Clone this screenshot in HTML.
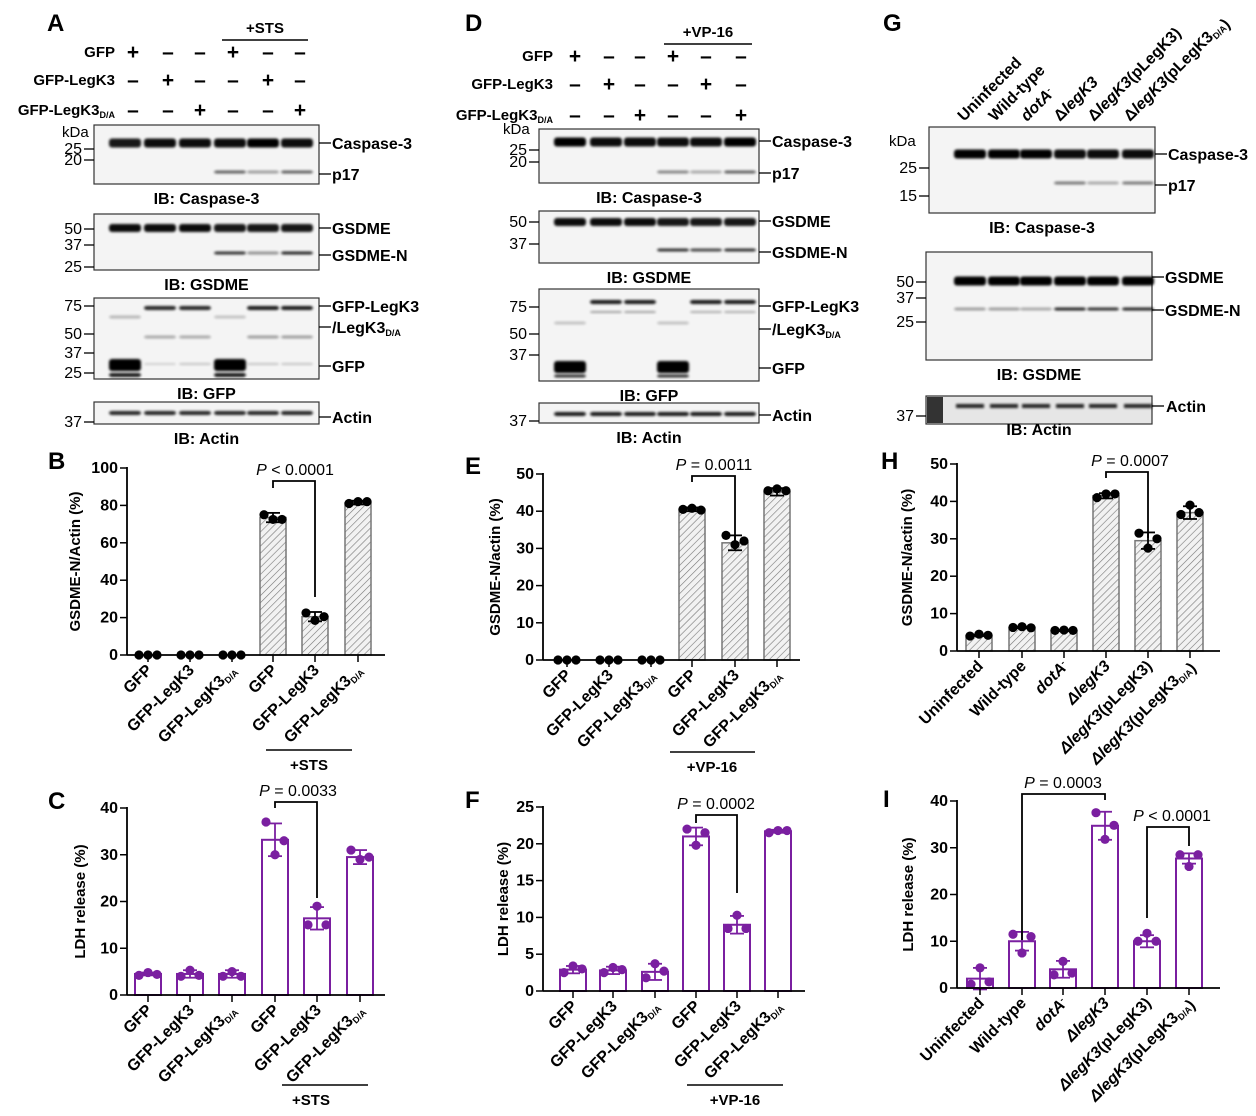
<!DOCTYPE html>
<html><head><meta charset="utf-8"><style>
body{margin:0;background:#fff}
svg{display:block;font-family:"Liberation Sans",Arial,sans-serif}
</style></head><body>
<svg id="s" width="1256" height="1116" xmlns="http://www.w3.org/2000/svg">
<defs>
<pattern id="h" width="5" height="5" patternUnits="userSpaceOnUse" patternTransform="rotate(45)">
<rect width="5" height="5" fill="#f2f2f2"/><line x1="0" y1="0" x2="0" y2="5" stroke="#777" stroke-width="1.2"/></pattern>
<filter id="bl" x="-20%" y="-100%" width="140%" height="300%"><feGaussianBlur stdDeviation="1.3"/></filter>
</defs>
</svg>
<script>
var S='';
function T(x,y,t,o){o=o||{};S+='<text x="'+x+'" y="'+y+'" font-size="'+(o.fs||15)+'"'+(o.b!==false?' font-weight="bold"':'')+' text-anchor="'+(o.a||'start')+'"'+(o.tr?' transform="'+o.tr+'"':'')+(o.fill?' fill="'+o.fill+'"':'')+'>'+t+'</text>';}
function L(x1,y1,x2,y2,w,c){S+='<line x1="'+x1+'" y1="'+y1+'" x2="'+x2+'" y2="'+y2+'" stroke="'+(c||'#000')+'" stroke-width="'+(w||1.5)+'"/>';}
var DA='<tspan font-size="9" dy="3">D/A</tspan>';
function blot(x0,y0,x1,y1,lanes,bands,marks,right,ib,bg){
 S+='<rect x="'+x0+'" y="'+y0+'" width="'+(x1-x0)+'" height="'+(y1-y0)+'" fill="'+(bg||'#f4f4f4')+'" stroke="#333" stroke-width="1.2"/>';
 bands.forEach(function(b){lanes.forEach(function(lx,i){var v=b.v[i];if(!v)return;
  S+='<rect x="'+(lx-16)+'" y="'+(b.y-b.h/2)+'" width="32" height="'+b.h+'" rx="3" fill="#000" opacity="'+v+'" filter="url(#bl)"/>';});});
 marks.forEach(function(m){L(x0-10,m[1],x0,m[1],1.3);T(x0-12,m[1]+5,m[0],{b:false,fs:16,a:'end'});});
 right.forEach(function(r){L(x1,r[1],x1+12,r[1],1.3);T(x1+13,r[1]+6,r[0],{fs:16});});
 T((x0+x1)/2,y1+20,ib,{a:'middle',fs:16});
}
function chart(o){
 var ax=o.ax,y0=o.y0,y1=o.y1,max=o.max,sc=(y0-y1)/max;
 function Y(v){return y0-v*sc;}
 o.ticks.forEach(function(t){L(ax-7,Y(t),ax,Y(t),1.5);T(ax-9,Y(t)+5,t,{a:'end',fs:16});});
 var col=o.purple?'#7a1fa0':'#000';
 o.bars.forEach(function(v,i){var x=o.xs[i];
  if(o.purple)S+='<rect x="'+(x-13)+'" y="'+Y(v)+'" width="26" height="'+(y0-Y(v))+'" fill="#fff" stroke="'+col+'" stroke-width="2"/>';
  else S+='<rect x="'+(x-13)+'" y="'+Y(v)+'" width="26" height="'+(y0-Y(v))+'" fill="url(#h)" stroke="#777" stroke-width="1.5"/>';
  var e=o.err[i];if(e){L(x,Y(v-e),x,Y(v+e),1.8,col);L(x-7,Y(v+e),x+7,Y(v+e),1.8,col);L(x-7,Y(v-e),x+7,Y(v-e),1.8,col);}
  var d=o.dots[i];[-9,0,9].forEach(function(dx,j){S+='<circle cx="'+(x+dx)+'" cy="'+Y(d[j])+'" r="4.6" fill="'+col+'"/>';});
  L(x,y0,x,y0+7,1.5);
 });
 L(ax,y1-1,ax,y0,1.8);L(ax,y0,o.xe,y0,1.8);
 T(o.ylx,(y0+y1)/2,o.ylab,{a:'middle',tr:'rotate(-90 '+o.ylx+' '+((y0+y1)/2)+')',fs:15});
 o.labels.forEach(function(l,i){var x=o.xs[i]+5,y=y0+16;T(x,y,l,{a:'end',fs:16,tr:'rotate(-45 '+x+' '+y+')'});});
 (o.sig||[]).forEach(function(s){var xa=o.xs[s[0]],xb=o.xs[s[1]],yt=s[2];
  S+='<polyline points="'+xa+','+s[3]+' '+xa+','+yt+' '+xb+','+yt+' '+xb+','+s[4]+'" fill="none" stroke="#000" stroke-width="1.8"/>';
  T(s[5],yt-6,'<tspan font-style="italic">P</tspan>'+s[6],{b:false,fs:16,a:'middle'});});
}
function header(lanes,xl,ty,treat,tx1,tx2){
 var rows=[['GFP',[1,0,0,1,0,0]],['GFP-LegK3',[0,1,0,0,1,0]],['GFP-LegK3'+DA,[0,0,1,0,0,1]]];
 rows.forEach(function(r,i){T(xl,ty[i]+5,r[0],{a:'end',fs:15});r[1].forEach(function(p,j){T(lanes[j],ty[i]+7,p?'+':'–',{a:'middle',fs:21});});});
 L(tx1,ty[0]-12,tx2,ty[0]-12,1.5);T((tx1+tx2)/2,ty[0]-19,treat,{a:'middle',fs:15});
}
// ---- Panel A
T(47,31,'A',{fs:24});
var la=[133,168,200,233,268,300];
header(la,115,[52,80,110],'+STS',222,308);
var lb=[125,160,195,230,263,297];
T(62,137,'kDa',{b:false,fs:15});
blot(94,125,319,184,lb,[{y:143,h:9,v:[.9,.95,.95,.95,1,.95]},{y:172,h:3,v:[0,0,0,.6,.35,.6]}],[['25',149],['20',160]],[['Caspase-3',143],['p17',174]],'IB: Caspase-3');
blot(94,214,319,270,lb,[{y:228,h:8,v:[.95,.95,.95,.9,.9,.9]},{y:253,h:3,v:[0,0,0,.8,.4,.85]}],[['50',229],['37',245],['25',267]],[['GSDME',228],['GSDME-N',255]],'IB: GSDME');
blot(94,298,319,379,lb,[{y:308,h:4,v:[0,.85,.85,0,.9,.9]},{y:365,h:12,v:[1,0,0,1,0,0]},{y:375,h:4,v:[.9,0,0,.9,0,0]},{y:317,h:3,v:[.25,0,0,.2,0,0]},{y:337,h:3,v:[0,.3,.3,0,.35,.35]},{y:364,h:2,v:[0,.15,.2,0,.2,.2]}],[['75',306],['50',334],['37',353],['25',373]],[['GFP-LegK3',306],['/LegK3'+DA,327],['GFP',366]],'IB: GFP');
blot(94,402,319,424,lb,[{y:413,h:4,v:[.85,.85,.85,.85,.85,.85]}],[['37',422]],[['Actin',417]],'IB: Actin');
// ---- Panel D
T(465,31,'D',{fs:24});
var ld=[575,609,640,673,706,741];
header(ld,553,[56,84,115],'+VP-16',664,752);
var lbd=[570,606,640,673,706,740];
T(503,134,'kDa',{b:false,fs:15});
blot(539,129,759,183,lbd,[{y:142,h:9,v:[1,.95,.95,.95,.95,1]},{y:172,h:3,v:[0,0,0,.45,.3,.6]}],[['25',150],['20',162]],[['Caspase-3',141],['p17',173]],'IB: Caspase-3');
blot(539,211,759,263,lbd,[{y:222,h:8,v:[.95,.95,.95,.9,.9,.9]},{y:250,h:3,v:[0,0,0,.8,.7,.8]}],[['50',222],['37',244]],[['GSDME',221],['GSDME-N',252]],'IB: GSDME');
blot(539,289,759,381,lbd,[{y:302,h:4,v:[0,.9,.9,0,.9,.9]},{y:312,h:2,v:[0,.35,.35,0,.3,.3]},{y:367,h:12,v:[1,0,0,1,0,0]},{y:376,h:3,v:[.8,0,0,.8,0,0]},{y:323,h:3,v:[.2,0,0,.2,0,0]}],[['75',307],['50',334],['37',355]],[['GFP-LegK3',306],['/LegK3'+DA,329],['GFP',368]],'IB: GFP');
blot(539,403,759,423,lbd,[{y:414,h:4,v:[.9,.9,.9,.9,.9,.9]}],[['37',421]],[['Actin',415]],'IB: Actin');
// ---- Panel G
T(883,31,'G',{fs:24});
var lg=[972,1003,1035,1068,1102,1138];
['Uninfected','Wild-type','<tspan font-style="italic">dotA</tspan><tspan font-size="9" dy="-5">-</tspan>','Δ<tspan font-style="italic">legK3</tspan>','Δ<tspan font-style="italic">legK3</tspan>(pLegK3)','Δ<tspan font-style="italic">legK3</tspan>(pLegK3'+DA+')'].forEach(function(t,i){var x=lg[i]-8,y=122;T(x,y,t,{fs:16,tr:'rotate(-45 '+x+' '+y+')'});});
T(889,146,'kDa',{b:false,fs:15});
var lgb=[970,1004,1036,1070,1103,1138];
blot(929,127,1155,213,lgb,[{y:154,h:9,v:[1,1,1,.95,.95,.95]},{y:183,h:3,v:[0,0,0,.5,.3,.5]}],[['25',168],['15',196]],[['Caspase-3',154],['p17',185]],'IB: Caspase-3');
blot(926,252,1152,360,lgb,[{y:281,h:9,v:[1,1,1,1,1,1]},{y:309,h:3,v:[.35,.35,.3,.85,.8,.85]}],[['50',282],['37',298],['25',322]],[['GSDME',277],['GSDME-N',310]],'IB: GSDME');
S+='<rect x="926" y="396" width="226" height="28" fill="#e6e6e6" stroke="#333" stroke-width="1.2"/><rect x="927" y="397" width="16" height="26" fill="#333"/>';
lgb.forEach(function(x){S+='<rect x="'+(x-14)+'" y="404" width="28" height="4" fill="#000" opacity=".85" filter="url(#bl)"/>';});
L(916,416,926,416,1.3);T(914,421,'37',{b:false,fs:16,a:'end'});L(1152,406,1164,406,1.3);T(1166,412,'Actin',{fs:16});
T(1039,435,'IB: Actin',{a:'middle',fs:16});
// ---- Charts
var labAB=['GFP','GFP-LegK3','GFP-LegK3'+DA,'GFP','GFP-LegK3','GFP-LegK3'+DA];
T(48,469,'B',{fs:24});
chart({ax:127,y0:655,y1:468,max:100,ticks:[0,20,40,60,80,100],xs:[148,190,232,273,315,358],xe:385,
 bars:[0,0,0,73.5,20.5,81.5],err:[0,0,0,2.5,2.5,1],dots:[[0,0,0],[0,0,0],[0,0,0],[75,72.5,72.5],[22.5,18.5,20.5],[81,82,82]],
 ylab:'GSDME-N/Actin (%)',ylx:80,labels:labAB,sig:[[3,4,481,488,597,295,' &lt; 0.0001']]});
L(266,750,352,750,1.5);T(309,770,'+STS',{a:'middle',fs:15});
T(48,809,'C',{fs:24});
chart({ax:127,y0:995,y1:808,max:40,ticks:[0,10,20,30,40],xs:[148,190,232,275,317,360],xe:385,purple:1,
 bars:[4.5,4.5,4.5,33.2,16.4,29.5],err:[.3,.8,.8,3.5,2.4,1.5],dots:[[4.2,4.8,4.4],[4,5.3,4.2],[4,5,4],[37,30,33],[15,19,15],[31,29,29.5]],
 ylab:'LDH release (%)',ylx:85,labels:labAB,sig:[[3,4,802,808,898,298,' = 0.0033']]});
L(282,1085,368,1085,1.5);T(311,1105,'+STS',{a:'middle',fs:15});
T(465,474,'E',{fs:24});
chart({ax:543,y0:660,y1:474,max:50,ticks:[0,10,20,30,40,50],xs:[567,609,651,692,735,777],xe:800,
 bars:[0,0,0,40.5,31.5,45.2],err:[0,0,0,.5,2,1],dots:[[0,0,0],[0,0,0],[0,0,0],[40.5,40.8,40.3],[33.5,31,32],[45.5,46,45.5]],
 ylab:'GSDME-N/actin (%)',ylx:500,labels:labAB,sig:[[3,4,476,482,549,714,' = 0.0011']]});
L(670,752,755,752,1.5);T(712,772,'+VP-16',{a:'middle',fs:15});
T(465,808,'F',{fs:24});
chart({ax:543,y0:991,y1:807,max:25,ticks:[0,5,10,15,20,25],xs:[573,613,655,696,737,778],xe:805,purple:1,
 bars:[2.9,2.8,2.6,21,9,21.7],err:[.5,.5,1.1,1.2,1.2,.2],dots:[[2.5,3.4,3],[2.5,3.2,2.9],[1.8,3.7,2.7],[22,19.8,21.5],[8.5,10.3,8.5],[21.5,21.8,21.8]],
 ylab:'LDH release (%)',ylx:508,labels:labAB,sig:[[3,4,815,823,893,716,' = 0.0002']]});
L(687,1085,783,1085,1.5);T(735,1105,'+VP-16',{a:'middle',fs:15});
var labG=['Uninfected','Wild-type','<tspan font-style="italic">dotA</tspan><tspan font-size="9" dy="-5">-</tspan>','<tspan font-style="italic">ΔlegK3</tspan>','<tspan font-style="italic">ΔlegK3</tspan>(pLegK3)','<tspan font-style="italic">ΔlegK3</tspan>(pLegK3'+DA+')'];
T(881,469,'H',{fs:24});
chart({ax:957,y0:651,y1:464,max:50,ticks:[0,10,20,30,40,50],xs:[979,1022,1064,1106,1148,1190],xe:1220,
 bars:[4.2,6.3,5.5,41.5,29.5,37],err:[.2,.2,.2,.7,2.2,1.7],dots:[[4,4.5,4.2],[6.3,6.5,6.2],[5.5,5.6,5.5],[41,42,42],[31.5,27.5,30],[36.5,39,37]],
 ylab:'GSDME-N/actin (%)',ylx:912,labels:labG,sig:[[3,4,472,478,538,1130,' = 0.0007']]});
T(883,807,'I',{fs:24});
chart({ax:957,y0:988,y1:801,max:40,ticks:[0,10,20,30,40],xs:[980,1022,1063,1105,1147,1189],xe:1220,purple:1,
 bars:[2,10,4,34.7,10,27.7],err:[2.3,2,1.8,3,1.3,1.1],dots:[[.8,4.3,1.3],[11.5,7.5,11],[2.8,5.7,3.2],[37.5,31.8,34.8],[10,11.7,10],[28.5,26,28.5]],
 ylab:'LDH release (%)',ylx:913,labels:labG,sig:[[1,3,794,940,800,1063,' = 0.0003'],[4,5,827,918,846,1172,' &lt; 0.0001']]});
document.getElementById('s').insertAdjacentHTML('beforeend',S);
</script>
</body></html>
